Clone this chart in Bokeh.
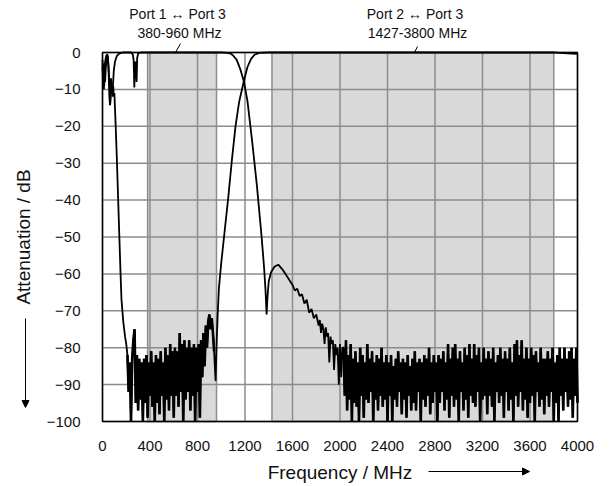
from bokeh.plotting import figure
from bokeh.models import Range1d, FixedTicker, Arrow, NormalHead, Label
from bokeh.embed import file_html
from bokeh.resources import INLINE

# ---- pass bands ----
band_names = ["Port 1 \u2194 Port 3", "Port 2 \u2194 Port 3"]
band_ranges = ["380-960 MHz", "1427-3800 MHz"]
band_lo = [380, 1427]
band_hi = [960, 3800]

# ---- curve A : Port 1 <-> Port 3 (smooth part) ----
a_freq = [0, 5, 10, 15, 20, 30, 40, 45, 52, 58, 63, 68, 74, 80, 86, 95, 105, 120, 140, 170,
          200, 240, 255, 262, 268, 273, 280, 287, 292, 300, 320, 400, 600, 800, 1000, 1050,
          1080, 1100, 1130, 1160, 1190, 1220, 1260, 1300, 1340, 1360, 1372, 1382, 1390, 1400,
          1420, 1450, 1480, 1520, 1560, 1600, 1620, 1640, 1660, 1680, 1700, 1720, 1740, 1760,
          1780, 1800, 1820, 1830, 1840, 1850, 1860, 1870, 1880, 1890, 1900, 1910, 1920, 1930,
          1940, 1950, 1960, 1970, 1980, 1990, 2000, 2010, 2020]
a_db = [-4, -8, -4, -9, -3, -1, -0.5, -1, -6, -12, -14.3, -13, -9, -11, -10, -5, -2.5, -1, -0.3, 0,
        0, 0, -0.5, -2, -9.5, -3, -2.5, -8, -1.5, -0.3, 0, 0, 0, 0, 0, -0.1,
        -0.3, -0.8, -2, -4.5, -7.8, -13, -24, -36, -50, -58, -64, -71, -66, -62,
        -59.5, -58, -57.5, -59, -61, -63, -64.5, -64, -66, -65.5, -68, -67, -70.5, -69.5,
        -72, -71, -74, -72.5, -76, -73.5, -75, -79, -74.5, -77, -76, -84, -77, -79,
        -78, -86, -79, -82, -80, -90, -79, -88, -80]
# noise floor of curve A, sampled every 10 MHz from 2030 MHz
a_noise_start = 2030
a_noise_step = 10
a_noise_db = [
    -80, -93, -78, -97, -82, -94, -79, -100, -83, -95,
    -81, -96, -84, -100, -80, -93, -82, -99, -84, -94,
    -79, -95, -83, -92, -81, -100, -84, -94, -82, -97,
    -83, -93, -80, -96, -84, -94, -82, -100, -84, -93,
    -82, -100, -85, -94, -83, -96, -81, -92, -84, -98,
    -83, -94, -84, -99, -82, -93, -85, -97, -83, -95,
    -81, -97, -84, -92, -83, -100, -84, -94, -82, -96,
    -83, -93, -80, -98, -84, -95, -82, -92, -84, -100,
    -82, -95, -83, -92, -81, -97, -84, -94, -79, -99,
    -83, -93, -80, -96, -79, -94, -83, -100, -81, -92,
    -84, -97, -80, -94, -82, -99, -79, -93, -83, -95,
    -79, -96, -82, -92, -80, -100, -84, -94, -80, -93,
    -83, -98, -81, -93, -83, -96, -80, -100, -84, -92,
    -82, -95, -80, -93, -83, -99, -81, -92, -83, -97,
    -80, -94, -84, -100, -79, -93, -78, -96, -82, -92,
    -78, -97, -83, -94, -80, -99, -83, -95, -80, -93,
    -82, -100, -81, -92, -84, -96, -80, -94, -83, -98,
    -83, -93, -81, -96, -83, -92, -80, -100, -84, -95,
    -82, -100, -80, -93, -83, -97, -80, -92, -83, -96,
    -81, -94, -80, -99, -83, -93, -80, -95]

# ---- curve B : Port 2 <-> Port 3 ----
b_low_freq = [0, 4, 8, 12, 16, 22, 28, 35, 42, 50, 58, 66, 72, 78, 84, 90, 95, 100, 110, 120,
              130, 143, 152, 160, 175, 190, 200]
b_low_db = [-2, -6, -3, -10, -5, -8, -4, -2, -1, -3, -8, -10, -7, -10, -12, -9, -12, -11, -19, -28,
            -38, -51, -60, -67, -73, -77, -79]
b_noise_start = 210
b_noise_step = 10
b_noise_db = [
    -82, -92, -84, -100, -83, -78, -75, -95, -82, -97,
    -83, -94, -84, -100, -83, -95, -82, -99, -84, -93,
    -81, -96, -84, -100, -82, -95, -83, -98, -81, -93,
    -84, -100, -80, -94, -82, -97, -79, -93, -81, -99,
    -80, -93, -81, -96, -76, -92, -79, -100, -78, -94,
    -80, -92, -78, -97, -80, -93, -79, -100, -80, -92,
    -79, -99, -78, -88, -76, -85, -74, -80, -73, -71,
    -75, -72, -76, -81]
b_high_freq = [952, 962, 970, 980, 1000, 1030, 1060, 1090, 1120, 1150, 1190, 1220, 1250,
               1280, 1320, 1400, 2000, 3000, 3800, 3850, 3950, 4000]
b_high_db = [-89, -78, -71, -64, -57, -48, -39, -29, -20, -13.5, -7.8, -4, -1.8,
             -0.6, -0.1, 0, 0, 0, 0, -0.1, -0.3, -0.4]

# ---- tick values ----
x_ticks = [0, 400, 800, 1200, 1600, 2000, 2400, 2800, 3200, 3600, 4000]
y_ticks = [0, -10, -20, -30, -40, -50, -60, -70, -80, -90, -100]

# assemble curves
a_nx = [a_noise_start + a_noise_step * i for i in range(len(a_noise_db))]
b_nx = [b_noise_start + b_noise_step * i for i in range(len(b_noise_db))]
a_x = a_freq + a_nx
a_y = a_db + a_noise_db
b_x = b_low_freq + b_nx + b_high_freq
b_y = b_low_db + b_noise_db + b_high_db

FONT = "Liberation Sans"
TXT = "#111111"

# ---- layout: the frame spans the whole canvas, data area sits inside it ----
W, H = 609, 486
LEFT, RIGHT, TOP, BOTTOM = 102, 32, 52, 65
X0, X1 = x_ticks[0], x_ticks[-1]
Y0, Y1 = y_ticks[-1], y_ticks[0]
kx = (X1 - X0) / (W - LEFT - RIGHT)      # MHz per pixel
ky = (Y1 - Y0) / (H - TOP - BOTTOM)      # dB per pixel
def px_x(sx):   # canvas pixel -> data x
    return X0 + (sx - LEFT) * kx
def px_y(sy):   # canvas pixel (from top) -> data y
    return Y1 - (sy - TOP) * ky

p = figure(width=W, height=H, output_backend="svg", toolbar_location=None,
           x_range=Range1d(px_x(0), px_x(W)), y_range=Range1d(px_y(H), px_y(0)),
           min_border=0)
p.background_fill_color = "white"
p.border_fill_color = "white"
p.outline_line_color = None
p.xgrid.visible = False
p.ygrid.visible = False

# shaded pass bands
p.quad(left=band_lo, right=band_hi, bottom=Y0, top=Y1, fill_color="#d9d9d9",
       line_color="#8c8c8c", line_width=1.5, level="image")
# grid lines
p.segment(x0=x_ticks, y0=Y0, x1=x_ticks, y1=Y1, line_color="#8c8c8c", line_width=1.5,
          level="underlay")
p.segment(x0=X0, y0=y_ticks, x1=X1, y1=y_ticks, line_color="#8c8c8c", line_width=1.5,
          level="underlay")

# axes placed on the data area edges
p.xaxis.fixed_location = Y0
p.yaxis.fixed_location = X0
p.xaxis.bounds = (X0, X1)
p.yaxis.bounds = (Y0, Y1)
p.xaxis.ticker = FixedTicker(ticks=x_ticks)
p.yaxis.ticker = FixedTicker(ticks=y_ticks)
for ax in (p.xaxis, p.yaxis):
    ax.axis_line_color = None
    ax.major_tick_line_color = None
    ax.minor_tick_line_color = None
    ax.major_label_text_font = FONT
    ax.major_label_text_font_size = "15px"
    ax.major_label_text_color = TXT
    ax.axis_label_text_font = FONT
    ax.axis_label_text_font_size = "19px"
    ax.axis_label_text_font_style = "normal"
    ax.axis_label_text_color = TXT
p.xaxis.major_label_standoff = 13
p.yaxis.major_label_standoff = 16
p.xaxis.axis_label = "Frequency / MHz"
p.yaxis.axis_label = "Attenuation / dB"
p.xaxis.axis_label_standoff = 8
p.yaxis.axis_label_standoff = 10

# curves
p.line(a_x, a_y, line_color="black", line_width=1.8)
p.line(b_x, b_y, line_color="black", line_width=1.8)
# denser rendering of the measurement noise floor
p.line(a_nx, a_noise_db, line_color="black", line_width=2.6)
p.line(b_nx, b_noise_db, line_color="black", line_width=2.6)

# data area frame
p.quad(left=X0, right=X1, bottom=Y0, top=Y1, fill_color=None, line_color="black",
       line_width=1.5)

# axis arrows
head = dict(size=7, fill_color="black", line_color="black", line_width=1)
p.add_layout(Arrow(x_start=px_x(25), y_start=px_y(318), x_end=px_x(25), y_end=px_y(407),
                   line_color="black", line_width=1, end=NormalHead(**head)))
p.add_layout(Arrow(x_start=px_x(428), y_start=px_y(471), x_end=px_x(529), y_end=px_y(471),
                   line_color="black", line_width=1, end=NormalHead(**head)))

# band annotations with leader lines
name_sx = [177, 414.5]
range_sx = [179, 417]
lead = [((175, 52), (180, 43)), ((414, 52), (417, 46))]
for i in range(2):
    p.add_layout(Label(x=px_x(name_sx[i]), y=px_y(13), text=band_names[i], text_align="center",
                       text_baseline="middle", text_font=FONT, text_font_size="14px",
                       text_color=TXT))
    p.add_layout(Label(x=px_x(range_sx[i]), y=px_y(32), text=band_ranges[i], text_align="center",
                       text_baseline="middle", text_font=FONT, text_font_size="14px",
                       text_color=TXT))
    (ax0, ay0), (ax1, ay1) = lead[i]
    p.segment(x0=[px_x(ax0)], y0=[px_y(ay0)], x1=[px_x(ax1)], y1=[px_y(ay1)],
              line_color="black", line_width=1)

open("out.html", "w").write(file_html(p, INLINE))
